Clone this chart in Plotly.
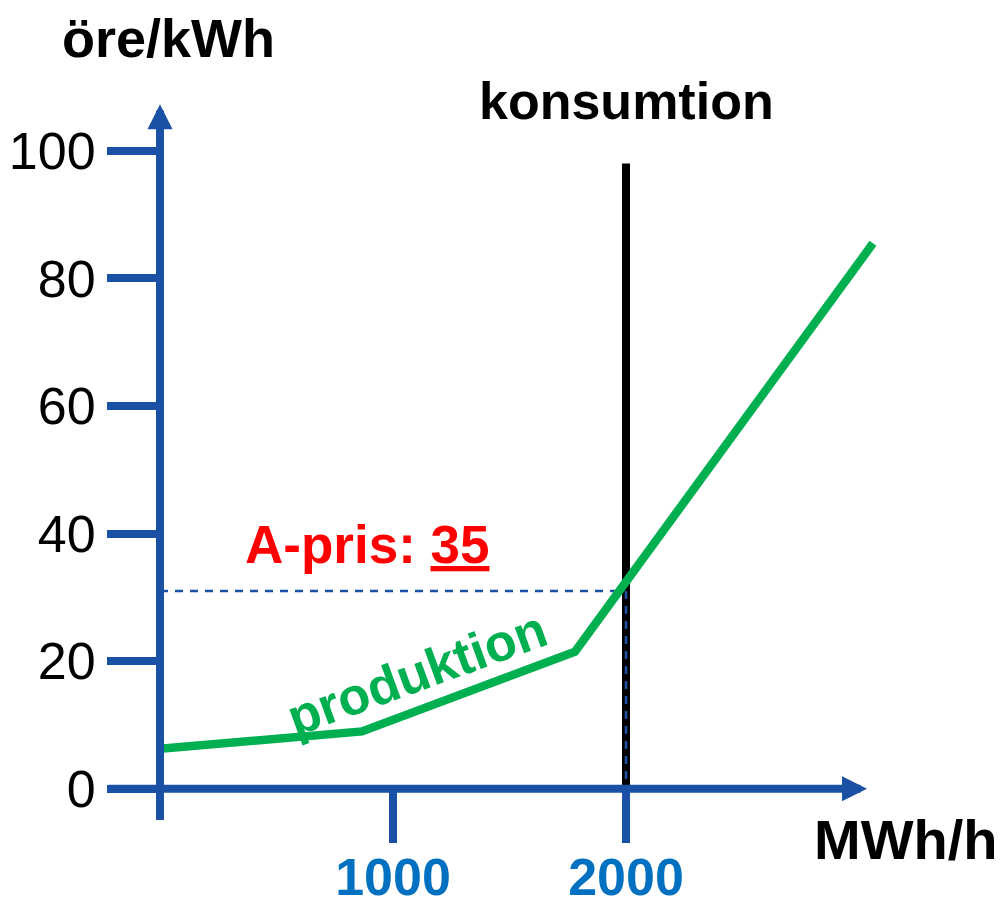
import plotly.graph_objects as go

# ---------------- data ----------------
prod_x = [0, 867, 1781, 3060]          # MWh/h
prod_y = [6.3, 9.0, 21.5, 85.5]        # öre/kWh
cons_x = [2000, 2000]
cons_y = [0, 98]
price_value = 31                        # where the dashed price line sits
price_label = "35"
x_ticks = [1000, 2000]
y_ticks = [0, 20, 40, 60, 80, 100]

# ---------------- layout geometry (pixels) ----------------
W, H = 1006, 906
X0, XS = 160, 0.2330      # px of x=0, px per MWh/h
Y0, YS = 795, 6.43        # px of y=0, px per öre/kWh

def xv(px):
    return (px - X0) / XS

def yv(py):
    return (Y0 - py) / YS

AXIS_BLUE = "#1B51A5"
GREEN = "#00B050"
FONT = "Liberation Sans, Arial, sans-serif"

fig = go.Figure()

fig.add_trace(go.Scatter(
    x=[0, cons_x[0], cons_x[0]], y=[price_value, price_value, 0],
    mode="lines", line=dict(color=AXIS_BLUE, width=2.5, dash="8px,7px"),
    hoverinfo="skip", showlegend=False))
fig.add_trace(go.Scatter(
    x=cons_x, y=cons_y, mode="lines",
    line=dict(color="black", width=8), hoverinfo="skip", showlegend=False))
# dashed vertical drawn again on top of the black line
fig.add_trace(go.Scatter(
    x=[cons_x[0], cons_x[0]], y=[price_value, 0], mode="lines",
    line=dict(color=AXIS_BLUE, width=2.5, dash="8px,7px"),
    hoverinfo="skip", showlegend=False))
fig.add_trace(go.Scatter(
    x=prod_x, y=prod_y, mode="lines",
    line=dict(color=GREEN, width=8.5), hoverinfo="skip", showlegend=False))

# axis lines with arrow heads
fig.add_annotation(x=xv(867), y=0, ax=xv(107), ay=0, xref="x", yref="y",
                   axref="x", ayref="y", text="", showarrow=True,
                   arrowhead=2, arrowwidth=8, arrowsize=0.625,
                   arrowcolor=AXIS_BLUE)
fig.add_annotation(x=0, y=yv(105), ax=0, ay=yv(828), xref="x", yref="y",
                   axref="x", ayref="y", text="", showarrow=True,
                   arrowhead=2, arrowwidth=8, arrowsize=0.625,
                   arrowcolor=AXIS_BLUE)

# text labels
fig.add_annotation(x=168 / W, y=1 - 38 / H, xref="paper", yref="paper",
                   xanchor="center", yanchor="middle",
                   text="<b>öre/kWh</b>", showarrow=False,
                   font=dict(family=FONT, size=54, color="black"))
fig.add_annotation(x=905 / W, y=1 - 846 / H, xref="paper", yref="paper",
                   xanchor="center", yanchor="middle",
                   text="<b>MWh/h</b>", showarrow=False,
                   font=dict(family=FONT, size=56, color="black"))
fig.add_annotation(x=cons_x[0], y=yv(102), xref="x", yref="y", text="<b>konsumtion</b>",
                   xanchor="center", yanchor="middle",
                   showarrow=False, font=dict(family=FONT, size=52, color="black"))
fig.add_annotation(x=xv(367), y=yv(549), xref="x", yref="y",
                   xanchor="center", yanchor="middle",
                   text="<b>A-pris: <u>" + price_label + "</u></b>",
                   showarrow=False, font=dict(family=FONT, size=53, color="#FF0000"))
fig.add_annotation(x=xv(417), y=yv(678), xref="x", yref="y", text="<b>produktion</b>",
                   xanchor="center", yanchor="middle",
                   textangle=-20, showarrow=False,
                   font=dict(family=FONT, size=52, color=GREEN))

fig.update_layout(
    width=W, height=H, autosize=False,
    margin=dict(l=0, r=0, t=0, b=0, pad=0),
    paper_bgcolor="white", plot_bgcolor="white",
    showlegend=False,
    xaxis=dict(
        domain=[100 / W, 905 / W], range=[xv(100), xv(905)],
        anchor="free", position=1 - Y0 / H,
        showline=False, showgrid=False, zeroline=False,
        ticks="outside", ticklen=53, tickwidth=8, tickcolor=AXIS_BLUE,
        tickvals=x_ticks, ticktext=[str(v) for v in x_ticks],
        tickfont=dict(family=FONT, size=52, color="#0070C0", weight="bold"),
        ticklabelstandoff=-10, fixedrange=True),
    yaxis=dict(
        domain=[1 - 835 / H, 1 - 95 / H], range=[yv(835), yv(95)],
        anchor="free", position=X0 / W,
        showline=False, showgrid=False, zeroline=False,
        ticks="outside", ticklen=53, tickwidth=8, tickcolor=AXIS_BLUE,
        tickvals=y_ticks, ticktext=[str(v) for v in y_ticks],
        tickfont=dict(family=FONT, size=52, color="black"),
        ticklabelstandoff=1, fixedrange=True),
)

fig.write_html(
    "out.html", config={"displayModeBar": False, "responsive": False},
    post_script=("document.documentElement.style.margin='0px';"
                 "document.documentElement.style.overflow='hidden';"
                 "document.body.style.margin='0px';"
                 "document.body.style.overflow='hidden';"))
